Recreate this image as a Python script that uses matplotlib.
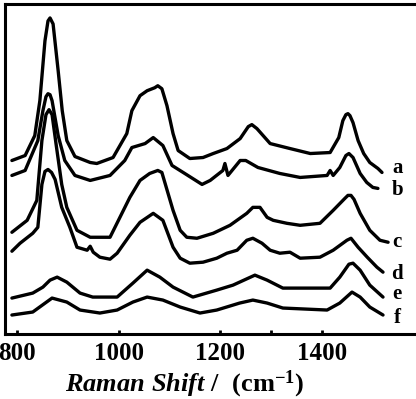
import matplotlib
matplotlib.use("Agg")
import matplotlib.pyplot as plt

# Raman shift (cm^-1) and intensities (arbitrary units, stacked offsets)
a_x = [790, 816, 835, 845, 855, 861, 865, 871, 881, 889, 898, 914, 944, 957, 989, 1016, 1026,
       1042, 1056, 1071, 1077, 1085, 1095, 1107, 1117, 1140, 1166, 1186, 1213, 1239, 1255, 1262, 1272,
       1298, 1337, 1377, 1416, 1433, 1441, 1447, 1451, 1455, 1461, 1471, 1482, 1494, 1510, 1518]
a_y = [174, 179, 199, 234, 294, 314, 317, 311, 264, 224, 194, 178, 172, 171, 177, 201, 224,
       239, 244, 247, 249, 246, 229, 201, 184, 176, 177, 181, 186, 196, 208, 210, 206,
       191, 186, 181, 182, 197, 214, 220, 221, 219, 212, 194, 181, 172, 166, 162]

b_x = [790, 816, 841, 851, 857, 861, 865, 869, 881, 894, 914, 944, 983, 1012, 1026, 1052, 1068, 1087,
       1105, 1130, 1164, 1180, 1205, 1209, 1215, 1239, 1250, 1274, 1317, 1357, 1410, 1416, 1422,
       1435, 1447, 1453, 1461, 1475, 1488, 1500, 1510]
b_y = [159, 164, 194, 224, 238, 241, 240, 234, 199, 174, 159, 154, 159, 174, 187, 191, 197, 189,
       169, 161, 150, 154, 164, 171, 159, 174, 174, 167, 161, 157, 159, 164, 159,
       167, 179, 181, 177, 161, 152, 147, 146]

c_x = [790, 820, 839, 849, 857, 863, 869, 877, 888, 898, 918, 944, 983, 1022, 1042, 1061, 1077,
       1085, 1107, 1121, 1134, 1154, 1186, 1219, 1252, 1264, 1278, 1292, 1304, 1331, 1357, 1396,
       1422, 1445, 1451, 1457, 1463, 1475, 1494, 1514, 1530]
c_y = [102, 114, 134, 194, 220, 225, 220, 190, 150, 127, 104, 97, 97, 137, 154, 161, 164,
       162, 124, 104, 97, 96, 101, 109, 121, 127, 127, 117, 114, 111, 109, 111,
       124, 136, 139, 139, 135, 121, 104, 94, 92]

d_x = [790, 806, 831, 841, 849, 855, 861, 868, 875, 888, 904, 918, 938, 944, 950, 963, 983, 997,
       1022, 1042, 1068, 1087, 1107, 1121, 1140, 1166, 1193, 1213, 1233, 1252, 1264, 1282, 1298,
       1317, 1337, 1357, 1396, 1422, 1449, 1457, 1471, 1489, 1508, 1520]
d_y = [83, 91, 101, 107, 150, 163, 165, 162, 155, 127, 107, 87, 84, 88, 82, 77, 75, 81,
       99, 112, 121, 114, 87, 76, 71, 72, 76, 81, 84, 94, 96, 91, 84,
       81, 82, 76, 77, 84, 94, 96, 87, 77, 67, 62]

e_x = [790, 831, 851, 865, 879, 898, 924, 949, 997, 1028, 1056, 1081, 1107, 1146, 1193, 1225,
       1268, 1292, 1323, 1416, 1435, 1453, 1461, 1475, 1494, 1520]
e_y = [36, 41, 47, 54, 57, 52, 41, 37, 37, 51, 64, 57, 47, 37, 44, 49,
       59, 54, 46, 46, 57, 70, 71, 64, 49, 37]

f_x = [790, 831, 869, 898, 924, 963, 997, 1028, 1056, 1087, 1121, 1160, 1193, 1238, 1264, 1292,
       1323, 1410, 1435, 1459, 1475, 1494, 1520]
f_y = [19, 22, 36, 32, 24, 21, 24, 32, 37, 34, 27, 21, 24, 31, 34, 31,
       26, 24, 31, 42, 37, 27, 19]

labels = ["a", "b", "c", "d", "e", "f"]
label_y = [166, 144, 92, 60, 40, 16]
label_x = 1548

x_ticks = [800, 1000, 1200, 1400]
x_minor = [1300]

plt.rcParams["mathtext.fontset"] = "custom"
plt.rcParams["mathtext.rm"] = "Liberation Serif:bold"
plt.rcParams["mathtext.it"] = "Liberation Serif:italic:bold"

fig = plt.figure(figsize=(4.16, 3.99), dpi=100)
ax = fig.add_axes([0.012, 0.163, 0.988, 0.827])

series = [(a_x, a_y), (b_x, b_y), (c_x, c_y), (d_x, d_y), (e_x, e_y), (f_x, f_y)]
for (xs, ys), lab, ly in zip(series, labels, label_y):
    ax.plot(xs, ys, color="black", lw=2.4, solid_joinstyle="round", solid_capstyle="round")
    ax.text(label_x, ly, lab, fontsize=15, fontweight="bold", family="Liberation Serif",
            ha="center", va="center")

ax.set_xlim(776.4, 1584.9)
ax.set_ylim(0, 331)
ax.set_xticks(x_ticks)
ax.set_xticks(x_minor, minor=True)
ax.set_xticklabels([str(t) for t in x_ticks], fontsize=18, family="Liberation Serif",
                   fontweight="bold")
ax.tick_params(axis="x", which="both", direction="in", length=3, width=2, pad=6)
ax.set_yticks([])
for s in ["left", "top", "bottom"]:
    ax.spines[s].set_linewidth(2.2)
ax.spines["right"].set_visible(False)
ax.set_xlabel(r"$\mathit{Raman\ Shift\ /}\ \ \mathrm{(cm^{-1})}$", fontsize=19, labelpad=2)
ax.xaxis.set_label_coords(0.438, -0.105)

fig.savefig("out.png", dpi=100)
